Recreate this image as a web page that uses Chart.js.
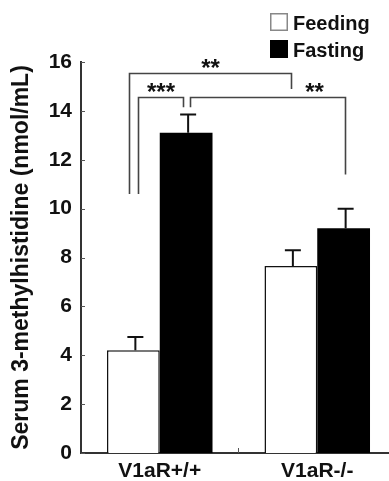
<!DOCTYPE html>
<html>
<head>
<meta charset="utf-8">
<script src="https://cdn.jsdelivr.net/npm/chart.js@4.4.1/dist/chart.umd.min.js"></script>
<style>
  html, body { margin: 0; padding: 0; background: #fff; overflow: hidden; }
  #wrap { width: 396px; height: 481px; }
</style>
</head>
<body>
<div id="wrap"><canvas id="myChart" width="396" height="481"></canvas></div>
<script>
// values
const categories = ['V1aR+/+', 'V1aR-/-'];
const seriesNames = ['Feeding', 'Fasting'];
const feeding = [4.2, 7.65];
const fasting = [13.1, 9.2];
const feedingErr = [0.55, 0.65];
const fastingErr = [0.75, 0.8];
const yTicks = [0, 2, 4, 6, 8, 10, 12, 14, 16];

// significance brackets: ends are [category, dataset], heights in y units
const bracketLabels = ['**', '***', '**'];
const bracketFrom = [[0, 0], [0, 0], [0, 1]];
const bracketTo = [[1, 0], [0, 1], [1, 1]];
const bracketTop = [15.55, 14.57, 14.57];
const bracketLeftEnd = [10.6, 10.6, 14.15];
const bracketRightEnd = [14.9, 14.15, 11.4];

const ink = '#111';
const font = 'Liberation Sans, Arial, sans-serif';

// little pixel nudges so the legs sit like in the figure
const bracketDx = [[-4, 0], [5, -3], [4, 1]];
const bracketLabelAt = [0.5, 0.5, 0.8];

const extras = {
    id: 'extras',
    afterDatasetsDraw(chart) {
        const ctx = chart.ctx;
        const y = chart.scales.y;
        const x = chart.scales.x;
        const errs = [feedingErr, fastingErr];

        ctx.save();
        // error bars (upper only)
        ctx.strokeStyle = ink;
        ctx.lineWidth = 2;
        [0, 1].forEach(ds => {
            chart.getDatasetMeta(ds).data.forEach((bar, i) => {
                const v = chart.data.datasets[ds].data[i];
                const top = y.getPixelForValue(v + errs[ds][i]);
                const cx = bar.x + 2;
                ctx.beginPath();
                ctx.moveTo(cx, bar.y);
                ctx.lineTo(cx, top);
                ctx.moveTo(cx - 8, top);
                ctx.lineTo(cx + 8, top);
                ctx.stroke();
            });
        });

        // inward ticks on y axis
        ctx.strokeStyle = '#555';
        ctx.lineWidth = 1;
        yTicks.forEach(t => {
            const py = Math.round(y.getPixelForValue(t)) + 0.5;
            ctx.beginPath();
            ctx.moveTo(x.left, py);
            ctx.lineTo(x.left + 4, py);
            ctx.stroke();
        });
        // middle tick on x axis
        const mid = (x.getPixelForValue(0) + x.getPixelForValue(1)) / 2;
        ctx.beginPath();
        ctx.moveTo(mid, y.bottom);
        ctx.lineTo(mid, y.bottom - 5);
        ctx.stroke();

        // brackets
        ctx.strokeStyle = '#444';
        ctx.lineWidth = 1.6;
        ctx.fillStyle = ink;
        ctx.font = 'bold 24px ' + font;
        ctx.textAlign = 'center';
        ctx.textBaseline = 'alphabetic';
        bracketLabels.forEach((lab, k) => {
            const a = chart.getDatasetMeta(bracketFrom[k][1]).data[bracketFrom[k][0]];
            const b = chart.getDatasetMeta(bracketTo[k][1]).data[bracketTo[k][0]];
            const x1 = Math.round(a.x + bracketDx[k][0]) + 0.5;
            const x2 = Math.round(b.x + bracketDx[k][1]) + 0.5;
            const yt = Math.round(y.getPixelForValue(bracketTop[k])) + 0.5;
            ctx.beginPath();
            ctx.moveTo(x1, y.getPixelForValue(bracketLeftEnd[k]));
            ctx.lineTo(x1, yt);
            ctx.lineTo(x2, yt);
            ctx.lineTo(x2, y.getPixelForValue(bracketRightEnd[k]));
            ctx.stroke();
            ctx.fillText(lab, x1 + (x2 - x1) * bracketLabelAt[k], yt + 2);
        });

        // legend, top right
        const lx = 270, ly = [13, 40];
        ctx.font = 'bold 20px ' + font;
        ctx.textAlign = 'left';
        ctx.textBaseline = 'alphabetic';
        chart.data.datasets.forEach((d, i) => {
            ctx.fillStyle = d.backgroundColor;
            ctx.fillRect(lx, ly[i], 18, 18);
            ctx.strokeStyle = i === 0 ? '#888' : '#000';
            ctx.lineWidth = 1.5;
            ctx.strokeRect(lx + 0.75, ly[i] + 0.75, 16.5, 16.5);
            ctx.fillStyle = ink;
            ctx.fillText(d.label, lx + 23, ly[i] + 17);
        });
        ctx.restore();
    }
};

const data = {
    labels: categories,
    datasets: [{
        label: seriesNames[0],
        data: feeding,
        backgroundColor: '#ffffff',
        borderColor: ink,
        borderWidth: 1.5,
        barPercentage: 1,
        categoryPercentage: 0.67
    }, {
        label: seriesNames[1],
        data: fasting,
        backgroundColor: '#000000',
        borderColor: '#000000',
        borderWidth: 0,
        barPercentage: 1,
        categoryPercentage: 0.67
    }]
};

const config = {
    type: 'bar',
    data: data,
    options: {
        responsive: false,
        animation: false,
        layout: { padding: { left: 0, right: 0, top: 62, bottom: 0 } },
        plugins: { legend: { display: false }, tooltip: { enabled: false } },
        scales: {
            x: {
                grid: { display: false, drawTicks: false },
                border: { color: '#333', width: 2 },
                ticks: { color: ink, font: { family: font, size: 21, weight: 'bold' }, padding: 6 },
                afterFit: s => { s.height = 28; }
            },
            y: {
                min: 0,
                max: 16,
                grid: { display: false, drawTicks: false },
                border: { color: '#333', width: 2 },
                afterBuildTicks: s => { s.ticks = yTicks.map(v => ({ value: v })); },
                ticks: { color: ink, font: { family: font, size: 21, weight: 'bold' }, padding: 9 },
                title: {
                    display: true,
                    text: 'Serum 3-methylhistidine (nmol/mL)',
                    color: ink,
                    font: { family: font, size: 23, weight: 'bold' },
                    padding: { top: 8, bottom: 0 }
                },
                afterFit: s => { s.width = 81; }
            }
        }
    },
    plugins: [extras]
};

const myChart = new Chart(document.getElementById('myChart').getContext('2d'), config);
</script>
</body>
</html>
